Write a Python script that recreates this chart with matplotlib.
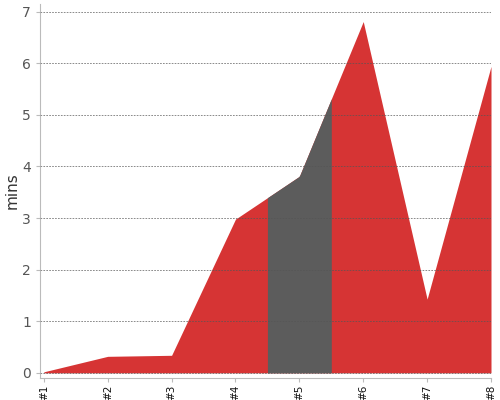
import matplotlib
matplotlib.use("Agg")
import matplotlib.pyplot as plt
import numpy as np

labels = ["#1", "#2", "#3", "#4", "#5", "#6", "#7", "#8"]
mins = [0.02, 0.32, 0.34, 2.98, 3.81, 6.81, 1.43, 5.94]
# highlighted span (between #4 and #6, centred on #5)
hl_start, hl_end = 4.5, 5.5

x = np.arange(1, len(labels) + 1)
y = np.array(mins)

fig = plt.figure(figsize=(5, 4), dpi=100)
ax = fig.add_axes([0.08, 0.055, 0.902, 0.935])

red = "#d63434"
grey = "#5c5c5c"

# full area in red, then overlay the grey band
ax.fill_between(x, 0, y, color=red, linewidth=0, zorder=1)
xs = np.linspace(hl_start, hl_end, 50)
ax.fill_between(xs, 0, np.interp(xs, x, y), color=grey, linewidth=0, zorder=2)

ax.set_xlim(0.94, 8.0)
ax.set_ylim(-0.1, 7.15)
ax.set_yticks(range(0, 8))
ax.set_xticks(x)
ax.set_xticklabels(labels, rotation=90, fontsize=7.5, color="#111111")
ax.tick_params(axis="y", labelsize=10, labelcolor="#555555", color="#bbbbbb", length=3)
ax.tick_params(axis="x", color="#bbbbbb", length=3, pad=2)

ax.grid(axis="y", linestyle=(0, (2, 1.5)), color="#555555", linewidth=0.6, alpha=0.8, zorder=3)
ax.set_axisbelow(False)

for s in ["top", "right"]:
    ax.spines[s].set_visible(False)
for s in ["left", "bottom"]:
    ax.spines[s].set_color("#bbbbbb")

ax.set_ylabel("mins", fontsize=11, color="#333333")
ax.yaxis.set_label_coords(-0.045, 0.5)

fig.savefig("out.png")
